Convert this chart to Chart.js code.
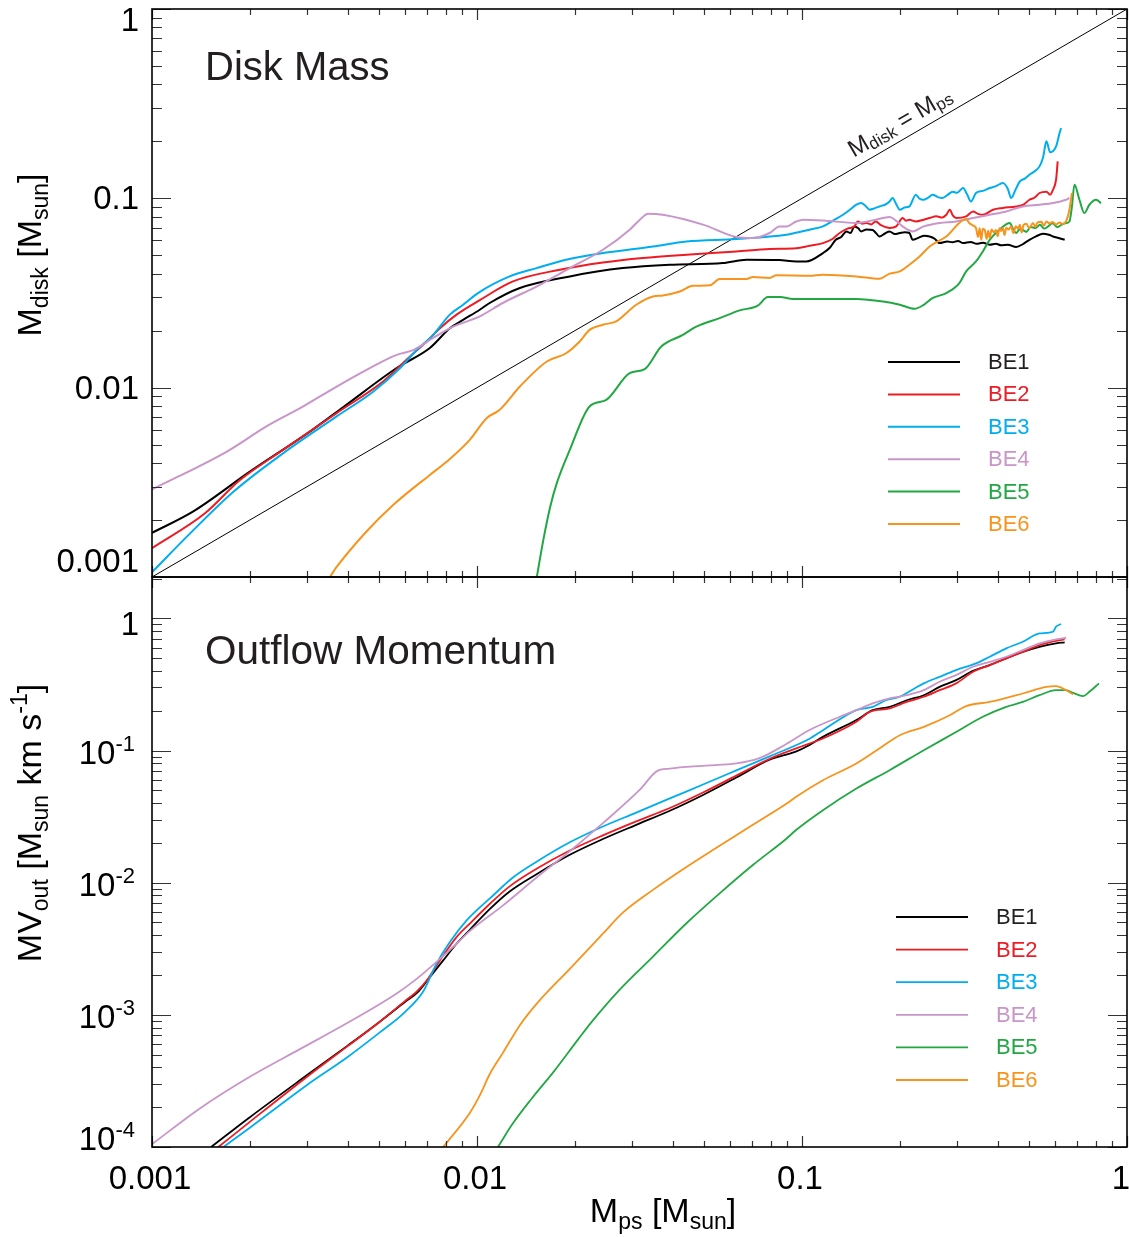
<!DOCTYPE html>
<html><head><meta charset="utf-8">
<script src="https://cdn.jsdelivr.net/npm/chart.js@4.4.1/dist/chart.umd.min.js"></script>
<style>
html,body{margin:0;padding:0;background:#fff;}
#wrap{position:relative;width:1129px;height:1237px;background:#fff;}
canvas{position:absolute;left:0;top:0;}
</style></head><body>
<div id="wrap"><canvas id="c1" width="1129" height="1237"></canvas><canvas id="c2" width="1129" height="1237"></canvas></div>
<script>
// ---------- series ----------
const seriesNames = ['BE1','BE2','BE3','BE4','BE5','BE6'];
const seriesColors = ['#000000','#ed1c24','#00aeef','#c896c8','#22a843','#f7941d'];
const legendTextColors = ['#231f20','#ed1c24','#00aeef','#c896c8','#22a843','#f7941d'];

// ---------- top panel: disk mass ----------
const diskX_BE1 = [0.001,0.00134,0.002,0.00306,0.00388,0.00566,0.00716,0.00825,0.00906,0.0102,0.01094,0.01355,0.0193,0.0281,0.0392,0.0571,0.0675,0.085,0.096,0.103,0.116,0.122,0.127,0.132,0.137,0.141,0.145,0.149,0.152,0.158,0.165,0.169,0.173,0.18,0.186,0.193,0.2,0.207,0.214,0.219,0.228,0.238,0.247,0.256,0.265,0.28,0.29,0.302,0.313,0.33,0.345,0.36,0.378,0.395,0.41,0.43,0.456,0.48,0.501,0.525,0.551,0.575,0.592,0.62,0.643];
const diskY_BE1 = [0.00171,0.00222,0.0036,0.00586,0.0079,0.0127,0.0162,0.0206,0.0228,0.0258,0.028,0.0336,0.0387,0.0428,0.0446,0.0455,0.0474,0.0472,0.0464,0.0464,0.0514,0.055,0.0604,0.0625,0.0669,0.0655,0.0711,0.0695,0.0669,0.0685,0.068,0.0655,0.0629,0.0652,0.0669,0.0648,0.0656,0.0662,0.0656,0.0604,0.0618,0.0635,0.0629,0.0612,0.058,0.0592,0.0586,0.0596,0.058,0.0588,0.0575,0.0583,0.0569,0.0576,0.0565,0.0568,0.0553,0.0575,0.0604,0.063,0.065,0.0642,0.0629,0.0616,0.0604];

const diskX_BE2 = [0.001,0.001456,0.001865,0.00253,0.0037,0.00514,0.00622,0.007,0.00769,0.00865,0.0102,0.0129,0.018,0.0244,0.0324,0.0441,0.0628,0.0795,0.096,0.1055,0.116,0.124,0.1306,0.138,0.145,0.1485,0.153,0.158,0.163,0.1685,0.175,0.181,0.186,0.195,0.204,0.209,0.214,0.224,0.237,0.247,0.259,0.27,0.278,0.285,0.291,0.298,0.32,0.336,0.348,0.36,0.387,0.415,0.456,0.48,0.501,0.52,0.538,0.565,0.58,0.592,0.605,0.612];
const diskY_BE2 = [0.00142,0.00217,0.00325,0.00469,0.00734,0.01078,0.01462,0.01754,0.0206,0.0243,0.029,0.0364,0.042,0.0458,0.0484,0.0504,0.0524,0.054,0.0545,0.0562,0.058,0.061,0.0656,0.0692,0.0711,0.0755,0.0735,0.0741,0.0728,0.0755,0.0722,0.0705,0.0697,0.0711,0.0787,0.0762,0.0771,0.0755,0.0771,0.0787,0.0803,0.0792,0.0819,0.0871,0.0812,0.0787,0.0803,0.0853,0.0828,0.0819,0.0871,0.0889,0.0906,0.0925,0.0983,0.101,0.1067,0.1085,0.1045,0.111,0.1254,0.1567];

const diskX_BE3 = [0.001,0.00131,0.00178,0.00253,0.0037,0.0048,0.0058,0.00652,0.00733,0.00825,0.00906,0.01007,0.0126,0.01525,0.0188,0.0244,0.0348,0.0441,0.0628,0.0895,0.1055,0.116,0.125,0.1337,0.141,0.147,0.152,0.157,0.1615,0.167,0.173,0.18,0.186,0.19,0.195,0.2,0.207,0.214,0.224,0.23,0.237,0.245,0.252,0.262,0.27,0.28,0.291,0.3,0.313,0.322,0.331,0.343,0.36,0.378,0.395,0.415,0.43,0.44,0.455,0.468,0.485,0.501,0.52,0.538,0.552,0.565,0.58,0.605,0.62,0.627];
const diskY_BE3 = [0.00106,0.0017,0.00282,0.0045,0.00705,0.00955,0.0127,0.0158,0.019,0.0243,0.0274,0.0316,0.0387,0.0428,0.0474,0.0514,0.0557,0.0592,0.061,0.0642,0.0683,0.0711,0.0765,0.0819,0.0875,0.0925,0.0944,0.091,0.0871,0.0885,0.0906,0.0925,0.0963,0.1004,0.093,0.0871,0.0895,0.0906,0.1046,0.0995,0.0983,0.101,0.1046,0.1015,0.1004,0.104,0.1085,0.107,0.1133,0.105,0.0963,0.1067,0.1095,0.1133,0.116,0.1205,0.112,0.1004,0.112,0.1229,0.127,0.1333,0.139,0.1475,0.165,0.2,0.175,0.188,0.221,0.235];

const diskX_BE4 = [0.001,0.0017,0.00225,0.00292,0.0037,0.00468,0.00566,0.00636,0.00733,0.00844,0.0102,0.012,0.01525,0.0193,0.0244,0.0295,0.0317,0.0336,0.0373,0.0496,0.0628,0.0706,0.0795,0.0853,0.0895,0.096,0.1007,0.116,0.147,0.165,0.1775,0.186,0.195,0.204,0.219,0.237,0.265,0.298,0.336,0.378,0.425,0.478,0.538,0.592,0.649,0.665];
const diskY_BE4 = [0.0029,0.0046,0.00624,0.00796,0.01014,0.0127,0.0149,0.0158,0.0183,0.021,0.0238,0.028,0.0342,0.0428,0.0535,0.0683,0.0771,0.083,0.0819,0.0726,0.0625,0.0617,0.0656,0.0711,0.0711,0.0755,0.0771,0.0764,0.0741,0.0765,0.0787,0.0796,0.076,0.0711,0.0669,0.0711,0.0741,0.0755,0.0787,0.0819,0.0853,0.0906,0.0925,0.0944,0.0983,0.1004];

const diskX_BE5 = [0.0152,0.016,0.0168,0.0176,0.0193,0.0222,0.025,0.0295,0.0328,0.0369,0.043,0.0473,0.0558,0.0643,0.0731,0.0785,0.0857,0.0938,0.147,0.1775,0.2,0.222,0.237,0.252,0.278,0.305,0.32,0.343,0.36,0.378,0.405,0.436,0.446,0.456,0.467,0.478,0.49,0.505,0.523,0.54,0.556,0.572,0.59,0.61,0.63,0.65,0.665,0.677,0.689,0.714,0.739,0.766,0.803,0.832];
const diskY_BE5 = [0.00095,0.00157,0.00235,0.00313,0.00469,0.00796,0.00863,0.01194,0.01253,0.0165,0.019,0.021,0.0233,0.0256,0.0271,0.0301,0.0301,0.0294,0.0294,0.0285,0.0274,0.0261,0.0274,0.0297,0.0316,0.0357,0.0411,0.0464,0.0524,0.0604,0.0683,0.0741,0.069,0.0656,0.0685,0.068,0.0665,0.0705,0.0697,0.0725,0.0692,0.0711,0.0738,0.0705,0.0726,0.074,0.0755,0.0906,0.118,0.0983,0.0836,0.0925,0.0983,0.0944];

const diskX_BE6 = [0.0035,0.0037,0.00457,0.00552,0.00716,0.00806,0.0095,0.0107,0.01175,0.01355,0.0164,0.0188,0.0207,0.0222,0.0244,0.0268,0.0309,0.0348,0.0373,0.0421,0.0462,0.052,0.0558,0.0675,0.0706,0.0795,0.0834,0.1055,0.116,0.147,0.173,0.186,0.2,0.214,0.23,0.247,0.278,0.32,0.327,0.335,0.343,0.348,0.352,0.356,0.36,0.365,0.37,0.374,0.378,0.383,0.39,0.395,0.4,0.405,0.41,0.415,0.42,0.425,0.432,0.44,0.447,0.455,0.462,0.468,0.474,0.48,0.49,0.5,0.514,0.522,0.53,0.545,0.555,0.565,0.578,0.59,0.605,0.62,0.635,0.649,0.665,0.677];
const diskY_BE6 = [0.00098,0.00113,0.00174,0.0024,0.00346,0.00406,0.0053,0.0069,0.00764,0.01014,0.01375,0.0152,0.01754,0.0202,0.0215,0.0224,0.0274,0.0303,0.0307,0.0322,0.0345,0.0347,0.0375,0.0375,0.0384,0.038,0.0392,0.039,0.0395,0.0387,0.0376,0.04,0.0411,0.0446,0.0493,0.0557,0.0629,0.0778,0.0741,0.072,0.0697,0.0625,0.0695,0.0604,0.069,0.068,0.061,0.0675,0.0617,0.0685,0.066,0.068,0.063,0.0695,0.0672,0.0697,0.064,0.07,0.0685,0.071,0.0655,0.0712,0.069,0.0726,0.066,0.072,0.0735,0.0695,0.0741,0.0705,0.0745,0.0752,0.0718,0.0755,0.0738,0.075,0.0728,0.0745,0.0732,0.0755,0.0871,0.1067];

const diagX = [0.001, 1];
const diagY = [0.001, 1];

// ---------- bottom panel: outflow momentum ----------
const momX_BE1 = [0.00152,0.002,0.003,0.004,0.005,0.006,0.0066,0.00716,0.00787,0.00865,0.0095,0.01094,0.0126,0.01525,0.0193,0.0244,0.0309,0.0392,0.0496,0.0628,0.0795,0.0957,0.1055,0.116,0.147,0.165,0.186,0.21,0.237,0.265,0.298,0.336,0.378,0.425,0.478,0.538,0.605,0.643];
const momY_BE1 = [0.0001,0.000168,0.00035,0.000585,0.00088,0.00125,0.0015,0.00193,0.00258,0.00345,0.0044,0.0063,0.00857,0.0116,0.01626,0.0214,0.0274,0.035,0.0461,0.0625,0.0851,0.098,0.11,0.1268,0.17,0.202,0.214,0.24,0.262,0.303,0.341,0.401,0.443,0.498,0.558,0.609,0.647,0.658];

const momX_BE2 = [0.0016,0.002,0.003,0.004,0.005,0.006,0.00652,0.007,0.00769,0.00865,0.0095,0.01094,0.0126,0.01525,0.0193,0.0244,0.0309,0.0392,0.0496,0.0628,0.0795,0.1055,0.116,0.147,0.1615,0.186,0.21,0.237,0.265,0.298,0.336,0.378,0.425,0.478,0.538,0.605,0.643];
const momY_BE2 = [0.0001,0.000155,0.00034,0.00058,0.00088,0.00127,0.0015,0.00182,0.00258,0.00387,0.0049,0.0069,0.00938,0.01274,0.0175,0.0228,0.0291,0.0367,0.0481,0.0646,0.0865,0.113,0.1233,0.165,0.196,0.208,0.233,0.255,0.286,0.322,0.394,0.443,0.498,0.558,0.628,0.676,0.693];

const momX_BE3 = [0.00166,0.002,0.003,0.004,0.005,0.006,0.00683,0.0075,0.00825,0.00929,0.0102,0.01094,0.0129,0.01525,0.0193,0.0244,0.0309,0.0392,0.0496,0.0628,0.0795,0.1055,0.116,0.147,0.165,0.181,0.2,0.222,0.237,0.265,0.298,0.343,0.378,0.425,0.478,0.538,0.592,0.605,0.627];
const momY_BE3 = [0.0001,0.00014,0.000295,0.00048,0.00073,0.00105,0.0015,0.00243,0.00355,0.00518,0.0065,0.00758,0.01094,0.0144,0.0202,0.0266,0.0339,0.0434,0.0553,0.0707,0.0904,0.1227,0.1425,0.202,0.214,0.24,0.255,0.295,0.322,0.361,0.406,0.456,0.512,0.593,0.665,0.769,0.792,0.864,0.905];

const momX_BE4 = [0.001,0.0014,0.002,0.00285,0.004,0.00566,0.00652,0.00769,0.00865,0.0095,0.012,0.01525,0.0193,0.0244,0.0317,0.0357,0.0392,0.0496,0.0628,0.074,0.0895,0.1055,0.1306,0.147,0.165,0.186,0.21,0.237,0.265,0.298,0.336,0.378,0.425,0.478,0.538,0.605,0.65];
const momY_BE4 = [0.000105,0.000195,0.00034,0.00055,0.00087,0.00145,0.00187,0.00265,0.00345,0.0043,0.0067,0.01094,0.0173,0.0282,0.0505,0.0695,0.0729,0.0766,0.0798,0.0875,0.112,0.143,0.18,0.202,0.227,0.248,0.262,0.286,0.331,0.372,0.43,0.469,0.512,0.575,0.647,0.693,0.713];

const momX_BE5 = [0.0116,0.0129,0.0147,0.0173,0.0205,0.0226,0.0274,0.0348,0.0441,0.0558,0.0706,0.0895,0.0957,0.116,0.147,0.186,0.237,0.298,0.36,0.425,0.478,0.538,0.605,0.649,0.683,0.732,0.766,0.82];
const momY_BE5 = [0.0001,0.000151,0.000231,0.000377,0.000655,0.000893,0.00154,0.00276,0.00493,0.0083,0.0136,0.0215,0.0249,0.0353,0.0515,0.071,0.1005,0.138,0.18,0.214,0.233,0.262,0.286,0.286,0.273,0.258,0.278,0.322];

const momX_BE6 = [0.00787,0.0095,0.0102,0.01094,0.012,0.01355,0.01525,0.0193,0.0244,0.0281,0.0348,0.0441,0.0558,0.0706,0.0895,0.0957,0.116,0.147,0.173,0.2,0.237,0.285,0.32,0.378,0.478,0.565,0.605,0.649,0.683];
const momY_BE6 = [0.0001,0.000181,0.000246,0.000355,0.000513,0.000835,0.00121,0.00223,0.00411,0.00593,0.00882,0.01313,0.019,0.0274,0.0395,0.0445,0.0596,0.0798,0.1035,0.1306,0.151,0.185,0.217,0.233,0.27,0.303,0.307,0.286,0.266];

// ---------- axes ----------
const xMin = 0.001, xMax = 1;
const diskYMin = 0.001, diskYMax = 1;
const momYMin = 1e-4, momYMax = 2.055;
const xTickValues = [0.001, 0.01, 0.1, 1];
const xTickLabels = ['0.001', '0.01', '0.1', '1'];
const diskYTickValues = [0.001, 0.01, 0.1, 1];
const diskYTickLabels = ['0.001', '0.01', '0.1', '1'];
const momYTickValues = [1e-4, 1e-3, 1e-2, 1e-1, 1];
const momYTickBase = ['10', '10', '10', '10', '1'];
const momYTickExp = ['-4', '-3', '-2', '-1', ''];

const diskTitle = 'Disk Mass';
const momTitle = 'Outflow Momentum';

const FONT = "'Liberation Sans', Arial, Helvetica, sans-serif";
const TXT = '#231f20';
const TICKFONT = 33;

const diskXs = [diskX_BE1, diskX_BE2, diskX_BE3, diskX_BE4, diskX_BE5, diskX_BE6];
const diskYs = [diskY_BE1, diskY_BE2, diskY_BE3, diskY_BE4, diskY_BE5, diskY_BE6];
const momXs = [momX_BE1, momX_BE2, momX_BE3, momX_BE4, momX_BE5, momX_BE6];
const momYs = [momY_BE1, momY_BE2, momY_BE3, momY_BE4, momY_BE5, momY_BE6];

function pts(xs, ys) { return xs.map((x, i) => ({ x: x, y: ys[i] })); }

function minorTicks(min, max) {
  const out = [];
  for (let e = Math.floor(Math.log10(min)); e <= Math.ceil(Math.log10(max)); e++) {
    for (let m = 1; m <= 9; m++) {
      const v = m * Math.pow(10, e);
      if (v >= min * 0.999 && v <= max * 1.001) out.push({ v: v, major: m === 1 });
    }
  }
  return out;
}

function segsWidth(ctx, segs) {
  let w = 0;
  for (const s of segs) { ctx.font = s.size + 'px ' + FONT; w += ctx.measureText(s.t).width; }
  return w;
}
function drawSegs(ctx, segs, x, y) {
  let cx = x;
  for (const s of segs) {
    ctx.font = s.size + 'px ' + FONT;
    ctx.fillText(s.t, cx, y + (s.dy || 0));
    cx += ctx.measureText(s.t).width;
  }
}

function drawFrameAndTicks(chart, yMin, yMax) {
  const ctx = chart.ctx, a = chart.chartArea, xs = chart.scales.x, ys = chart.scales.y;
  ctx.save();
  ctx.strokeStyle = '#333';
  ctx.lineWidth = 1.2;
  ctx.beginPath();
  for (const t of minorTicks(xMin, xMax)) {
    const px = Math.round(xs.getPixelForValue(t.v)) + 0.5;
    const L = t.major ? 11 : 6;
    ctx.moveTo(px, a.bottom); ctx.lineTo(px, a.bottom - L);
    ctx.moveTo(px, a.top); ctx.lineTo(px, a.top + L);
  }
  for (const t of minorTicks(yMin, yMax)) {
    const py = Math.round(ys.getPixelForValue(t.v)) + 0.5;
    const L = t.major ? 19 : 10;
    ctx.moveTo(a.left, py); ctx.lineTo(a.left + L, py);
    ctx.moveTo(a.right, py); ctx.lineTo(a.right - L, py);
  }
  ctx.stroke();
  ctx.strokeStyle = '#000';
  ctx.lineWidth = 1.6;
  ctx.strokeRect(a.left, a.top, a.right - a.left, a.bottom - a.top);
  ctx.restore();
}

function drawLegend(ctx, x1, x2, tx, y0, dy, lw) {
  ctx.save();
  ctx.textBaseline = 'middle';
  ctx.textAlign = 'left';
  ctx.font = '22px ' + FONT;
  for (let i = 0; i < seriesNames.length; i++) {
    const y = y0 + i * dy;
    ctx.strokeStyle = seriesColors[i];
    ctx.lineWidth = lw;
    ctx.beginPath(); ctx.moveTo(x1, y); ctx.lineTo(x2, y); ctx.stroke();
    ctx.fillStyle = legendTextColors[i];
    ctx.fillText(seriesNames[i], tx, y + 1);
  }
  ctx.restore();
}

const diskAxesPlugin = {
  id: 'diskAxes',
  afterDatasetsDraw(chart) {
    const ctx = chart.ctx, xs = chart.scales.x, ys = chart.scales.y;
    drawFrameAndTicks(chart, diskYMin, diskYMax);
    ctx.save();
    ctx.fillStyle = '#000';
    ctx.font = TICKFONT + 'px ' + FONT;
    ctx.textAlign = 'right';
    ctx.textBaseline = 'middle';
    const adj = { '1': 11, '0.001': -16 };
    diskYTickValues.forEach((v, i) => {
      const py = ys.getPixelForValue(v);
      ctx.fillText(diskYTickLabels[i], 139, py + 2 + (adj[diskYTickLabels[i]] || 0));
    });
    // y title
    ctx.textAlign = 'left';
    ctx.textBaseline = 'alphabetic';
    const segs = [{ t: 'M', size: 34 }, { t: 'disk', size: 23, dy: 7 }, { t: ' [M', size: 34 }, { t: 'sun', size: 23, dy: 7 }, { t: ']', size: 34 }];
    const w = segsWidth(ctx, segs);
    ctx.save();
    ctx.translate(41, 255);
    ctx.rotate(-Math.PI / 2);
    drawSegs(ctx, segs, -w / 2, 0);
    ctx.restore();
    // panel title
    ctx.fillStyle = TXT;
    ctx.font = '40px ' + FONT;
    ctx.fillText(diskTitle, 205, 80);
    // diagonal label
    const p1x = xs.getPixelForValue(diagX[0]), p1y = ys.getPixelForValue(diagY[0]);
    const p2x = xs.getPixelForValue(diagX[1]), p2y = ys.getPixelForValue(diagY[1]);
    const ang = Math.atan2(p2y - p1y, p2x - p1x);
    const ax = xs.getPixelForValue(0.149), ay = ys.getPixelForValue(0.149);
    const nx = Math.sin(ang), ny = -Math.cos(ang);
    ctx.save();
    ctx.translate(ax + nx * 9, ay + ny * 9);
    ctx.rotate(ang);
    ctx.fillStyle = TXT;
    drawSegs(ctx, [{ t: 'M', size: 24 }, { t: 'disk', size: 17, dy: 3 }, { t: ' = M', size: 24 }, { t: 'ps', size: 17, dy: 3 }], 0, 0);
    ctx.restore();
    ctx.restore();
    drawLegend(ctx, 888, 960, 988, 362, 32.4, 2);
  }
};

const momAxesPlugin = {
  id: 'momAxes',
  afterDatasetsDraw(chart) {
    const ctx = chart.ctx, xs = chart.scales.x, ys = chart.scales.y;
    drawFrameAndTicks(chart, momYMin, momYMax);
    ctx.save();
    ctx.fillStyle = '#000';
    ctx.textBaseline = 'alphabetic';
    ctx.textAlign = 'left';
    momYTickValues.forEach((v, i) => {
      const py = ys.getPixelForValue(v);
      let off = 0;
      if (v === 1) off = 4;
      if (v === 1e-4) off = -10;
      const segs = momYTickExp[i] ? [{ t: momYTickBase[i], size: TICKFONT }, { t: momYTickExp[i], size: 22, dy: -13 }] : [{ t: momYTickBase[i], size: TICKFONT }];
      const w = segsWidth(ctx, segs);
      const right = momYTickExp[i] ? 135 : 139;
      drawSegs(ctx, segs, right - w, py + 13 + off);
    });
    // x tick labels
    ctx.font = TICKFONT + 'px ' + FONT;
    ctx.textAlign = 'center';
    ctx.textBaseline = 'middle';
    xTickValues.forEach((v, i) => {
      let px = xs.getPixelForValue(v) - 2;
      if (v === 1) px = 1121;
      ctx.fillText(xTickLabels[i], px, 1180);
    });
    ctx.textAlign = 'left';
    ctx.textBaseline = 'alphabetic';
    // x title
    const xsegs = [{ t: 'M', size: 34 }, { t: 'ps', size: 23, dy: 7 }, { t: ' [M', size: 34 }, { t: 'sun', size: 23, dy: 7 }, { t: ']', size: 34 }];
    const xw = segsWidth(ctx, xsegs);
    drawSegs(ctx, xsegs, 663 - xw / 2, 1222);
    // y title
    const segs = [{ t: 'MV', size: 34 }, { t: 'out', size: 23, dy: 7 }, { t: ' [M', size: 34 }, { t: 'sun', size: 23, dy: 7 }, { t: ' km s', size: 34 }, { t: '-1', size: 23, dy: -14 }, { t: ']', size: 34 }];
    const w = segsWidth(ctx, segs);
    ctx.save();
    ctx.translate(41, 823);
    ctx.rotate(-Math.PI / 2);
    drawSegs(ctx, segs, -w / 2, 0);
    ctx.restore();
    // panel title
    ctx.fillStyle = TXT;
    ctx.font = '40.5px ' + FONT;
    ctx.fillText(momTitle, 205, 664);
    ctx.restore();
    drawLegend(ctx, 896, 968, 996, 917, 32.6, 1.8);
  }
};

function makeDatasets(xsArr, ysArr, lw) {
  return seriesNames.map((name, i) => ({
    label: name,
    data: pts(xsArr[i], ysArr[i]),
    borderColor: seriesColors[i],
    backgroundColor: seriesColors[i],
    borderWidth: lw,
    pointRadius: 0,
    fill: false,
    cubicInterpolationMode: 'monotone',
    clip: 0,
    order: 6 - i
  }));
}

const commonOpts = (padding, yMin, yMax) => ({
  responsive: false,
  animation: false,
  events: [],
  layout: { padding: padding },
  plugins: { legend: { display: false }, tooltip: { enabled: false } },
  scales: {
    x: { type: 'logarithmic', min: xMin, max: xMax, display: false },
    y: { type: 'logarithmic', min: yMin, max: yMax, display: false }
  }
});

const diskSets = makeDatasets(diskXs, diskYs, 2);
diskSets.push({ label: 'Mdisk = Mps', data: pts(diagX, diagY), borderColor: '#000', borderWidth: 1, pointRadius: 0, fill: false, clip: 0, order: 20 });

new Chart(document.getElementById('c1'), {
  type: 'line',
  data: { datasets: diskSets },
  options: commonOpts({ left: 152, right: 2, top: 9, bottom: 660 }, diskYMin, diskYMax),
  plugins: [diskAxesPlugin]
});

new Chart(document.getElementById('c2'), {
  type: 'line',
  data: { datasets: makeDatasets(momXs, momYs, 1.8) },
  options: commonOpts({ left: 152, right: 2, top: 577, bottom: 90 }, momYMin, momYMax),
  plugins: [momAxesPlugin]
});
</script>
</body></html>
